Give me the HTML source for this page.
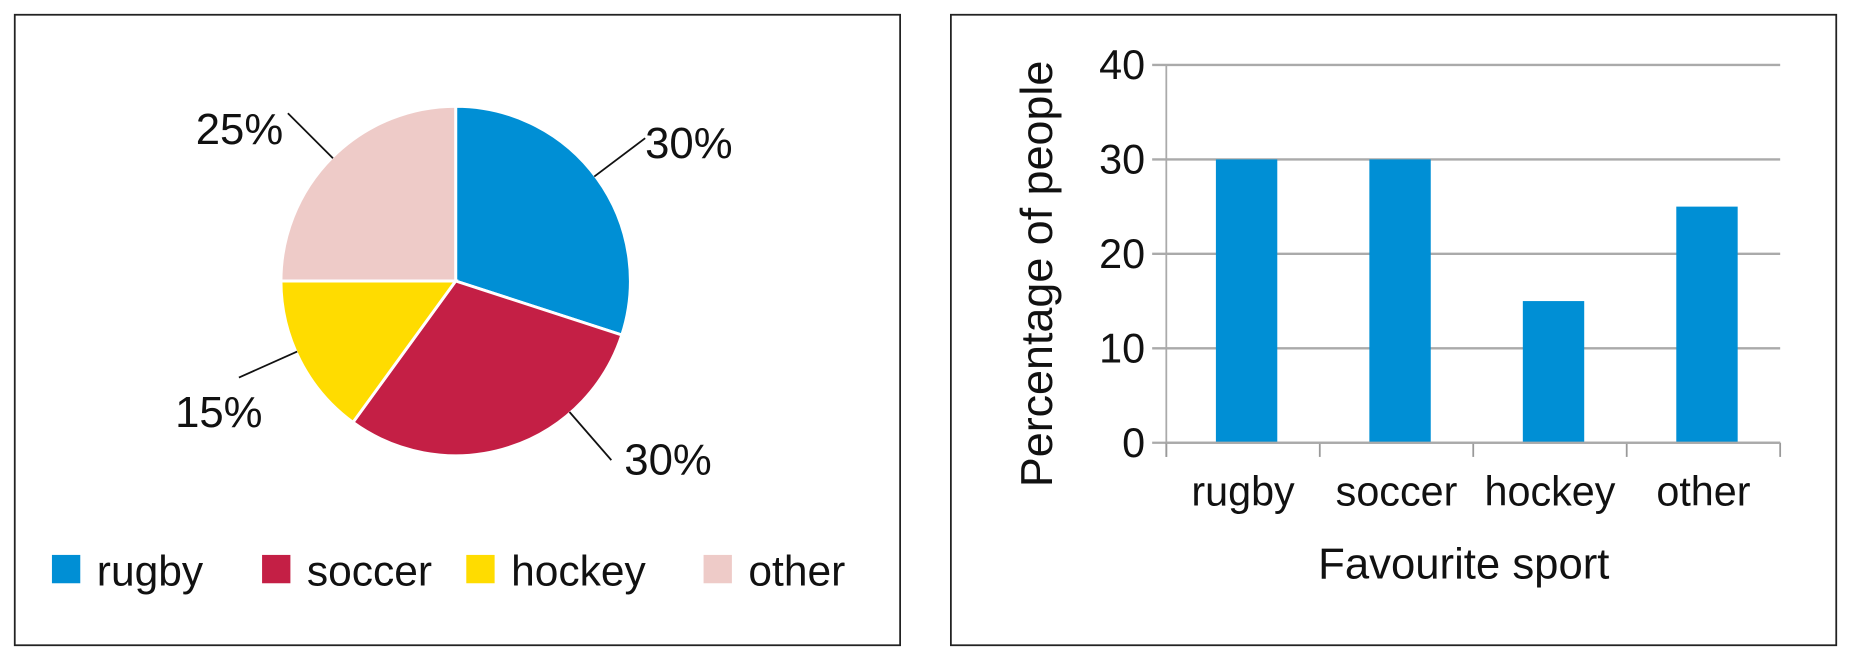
<!DOCTYPE html>
<html><head><meta charset="utf-8"><style>
html,body{margin:0;padding:0;background:#fff;}
svg{display:block;font-family:"Liberation Sans",sans-serif;}
</style></head><body>
<svg id="c" width="1851" height="660" viewBox="0 0 1568 559" preserveAspectRatio="none">
<rect x="12.5" y="12.5" width="750" height="534" fill="#fff" stroke="#222" stroke-width="1.5"/>
<rect x="805.5" y="12.5" width="750" height="534" fill="#fff" stroke="#222" stroke-width="1.5"/>
<g id="pie"></g>
<g id="bars"></g>
</svg>
<script>
const categories=["rugby","soccer","hockey","other"];
const values=[30,30,15,25];
const colors=["#008fd5","#c41f45","#ffdc00","#eecbc8"];
const yTicks=[0,10,20,30,40];
const NS="http://www.w3.org/2000/svg";
function mk(tag,attrs,parent,txt){const e=document.createElementNS(NS,tag);for(const k in attrs)e.setAttribute(k,attrs[k]);if(txt!==undefined)e.textContent=txt;parent.appendChild(e);return e;}
// Pie
const pie=document.getElementById('pie');
const cx=386,cy=238,r=148;
// leader placement styling (degrees offset from slice middle), not data
const leaderShift=[-1,-23,3,0];
const labelDx=[0,11,20,-4];
const labelDy=[17,12,42,26];
const total=values.reduce((a,b)=>a+b,0);
let acc=0;
values.forEach((v,i)=>{
  const a0=acc/total*2*Math.PI, a1=(acc+v)/total*2*Math.PI; acc+=v;
  const p=a=>[cx+r*Math.sin(a),cy-r*Math.cos(a)];
  const [x0,y0]=p(a0),[x1,y1]=p(a1);
  const large=(a1-a0)>Math.PI?1:0;
  const s=mk('path',{d:`M${cx},${cy}L${x0},${y0}A${r},${r} 0 ${large} 1 ${x1},${y1}Z`,fill:colors[i],stroke:'#fff','stroke-width':2.5},pie);
  
  
  const am=(a0+a1)/2+leaderShift[i]*Math.PI/180;
  const lx0=cx+(r-1)*Math.sin(am), ly0=cy-(r-1)*Math.cos(am);
  const lx1=cx+(r+53)*Math.sin(am), ly1=cy-(r+53)*Math.cos(am);
  const ln=mk('line',{x1:lx0,y1:ly0,x2:lx1,y2:ly1,stroke:'#111','stroke-width':1.5},pie);
  
  
  const right=Math.sin(am)>0;
  const lt=mk('text',{x:lx1+labelDx[i],y:ly1+labelDy[i],'font-size':37,'text-anchor':right?'start':'end',fill:'#111'},pie,v+'%');
  
  
});
// Legend
const legX=[44,222,395,596];
categories.forEach((c,i)=>{
  const g=mk('g',{},pie);
  
  
  mk('rect',{x:legX[i],y:470,width:24,height:24,fill:colors[i]},g);
  mk('text',{x:legX[i]+38,y:496,'font-size':36,fill:'#111'},g,c);
});
// Bars
const bars=document.getElementById('bars');
const x0=988,x1=1508,yb=375,yt=55,ymax=40;
const Y=v=>yb-(v/ymax)*(yb-yt);
const band=(x1-x0)/categories.length;
yTicks.forEach(t=>{
  const gl=mk('line',{x1:x0-12,x2:x1,y1:Y(t),y2:Y(t),stroke:'#aaa','stroke-width':2},bars);
  
  
  const tl=mk('text',{x:970,y:Y(t)+12,'font-size':35,'text-anchor':'end',fill:'#111'},bars,String(t));
  
  
});
const ax=mk('line',{x1:x0,x2:x0,y1:yt,y2:yb+12,stroke:'#aaa','stroke-width':1.5},bars);


for(let i=0;i<=categories.length;i++){
  const tk=mk('line',{x1:x0+i*band,x2:x0+i*band,y1:yb,y2:yb+12,stroke:'#999','stroke-width':1.5},bars);
  
  
}
categories.forEach((c,i)=>{
  const bx=x0+i*band+42;
  const b=mk('rect',{x:bx,y:Y(values[i]),width:52,height:yb-Y(values[i]),fill:'#008fd5'},bars);
  
  
  const xl=mk('text',{x:x0+i*band+band/2,y:428,'font-size':35,'text-anchor':'middle',fill:'#111'},bars,c);
  
  
});
mk('line',{x1:x0,x2:x1,y1:yb,y2:yb,stroke:'#aaa','stroke-width':2},bars);
const xt=mk('text',{x:1240,y:490,'font-size':37,'text-anchor':'middle',fill:'#111'},bars,'Favourite sport');


const yt2=mk('text',{x:0,y:0,'font-size':38,'text-anchor':'middle',fill:'#111',transform:'translate(891,232) rotate(-90)'},bars,'Percentage of people');


</script>
</body></html>
